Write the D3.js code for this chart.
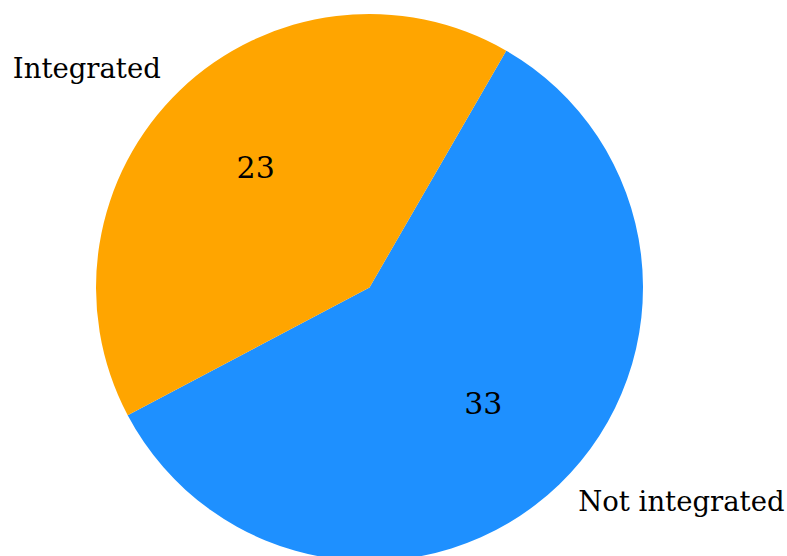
<!DOCTYPE html>
<html>
<head>
<meta charset="utf-8">
<script src="https://cdn.jsdelivr.net/npm/d3@7"></script>
<style>
  html, body { margin: 0; padding: 0; background: #fff; }
  svg { display: block; }
  text { font-family: "DejaVu Serif", serif; fill: #000; }
</style>
</head>
<body>
<svg id="chart" width="787" height="556"></svg>
<script>
// Slices, drawn clockwise starting 30° past twelve o'clock
const categories = ["Not integrated", "Integrated"];
const counts = [33, 23];
const colors = ["#1E90FF", "#FFA500"];

const width = 787, height = 556;
const cx = 369.5, cy = 287.5, radius = 273.5;

const svg = d3.select("#chart");
const g = svg.append("g").attr("transform", `translate(${cx},${cy})`);

const data = categories.map((c, i) => ({ name: c, value: counts[i], color: colors[i] }));

const start = 30 * Math.PI / 180;
const pie = d3.pie().value(d => d.value).sort(null)
  .startAngle(start).endAngle(start + 2 * Math.PI);
const arcs = pie(data);

const arc = d3.arc().innerRadius(0).outerRadius(radius);

g.selectAll("path.slice")
  .data(arcs)
  .join("path")
  .attr("class", "slice")
  .attr("d", arc)
  .attr("fill", d => d.data.color);

const mid = d => (d.startAngle + d.endAngle) / 2;

// Values inside each slice
g.selectAll("text.value")
  .data(arcs)
  .join("text")
  .attr("class", "value")
  .attr("x", d => Math.sin(mid(d)) * radius * 0.6)
  .attr("y", d => -Math.cos(mid(d)) * radius * 0.6)
  .attr("text-anchor", "middle")
  .attr("dy", "0.28em")
  .style("font-size", "30px")
  .text(d => d.data.value);

// Category names just outside the rim
g.selectAll("text.name")
  .data(arcs)
  .join("text")
  .attr("class", "name")
  .attr("x", d => Math.sin(mid(d)) * radius * 1.1)
  .attr("y", d => -Math.cos(mid(d)) * radius * 1.1)
  .attr("text-anchor", d => Math.sin(mid(d)) < 0 ? "end" : "start")
  .attr("dy", "0.25em")
  .style("font-size", "27.5px")
  .text(d => d.data.name);
</script>
</body>
</html>
